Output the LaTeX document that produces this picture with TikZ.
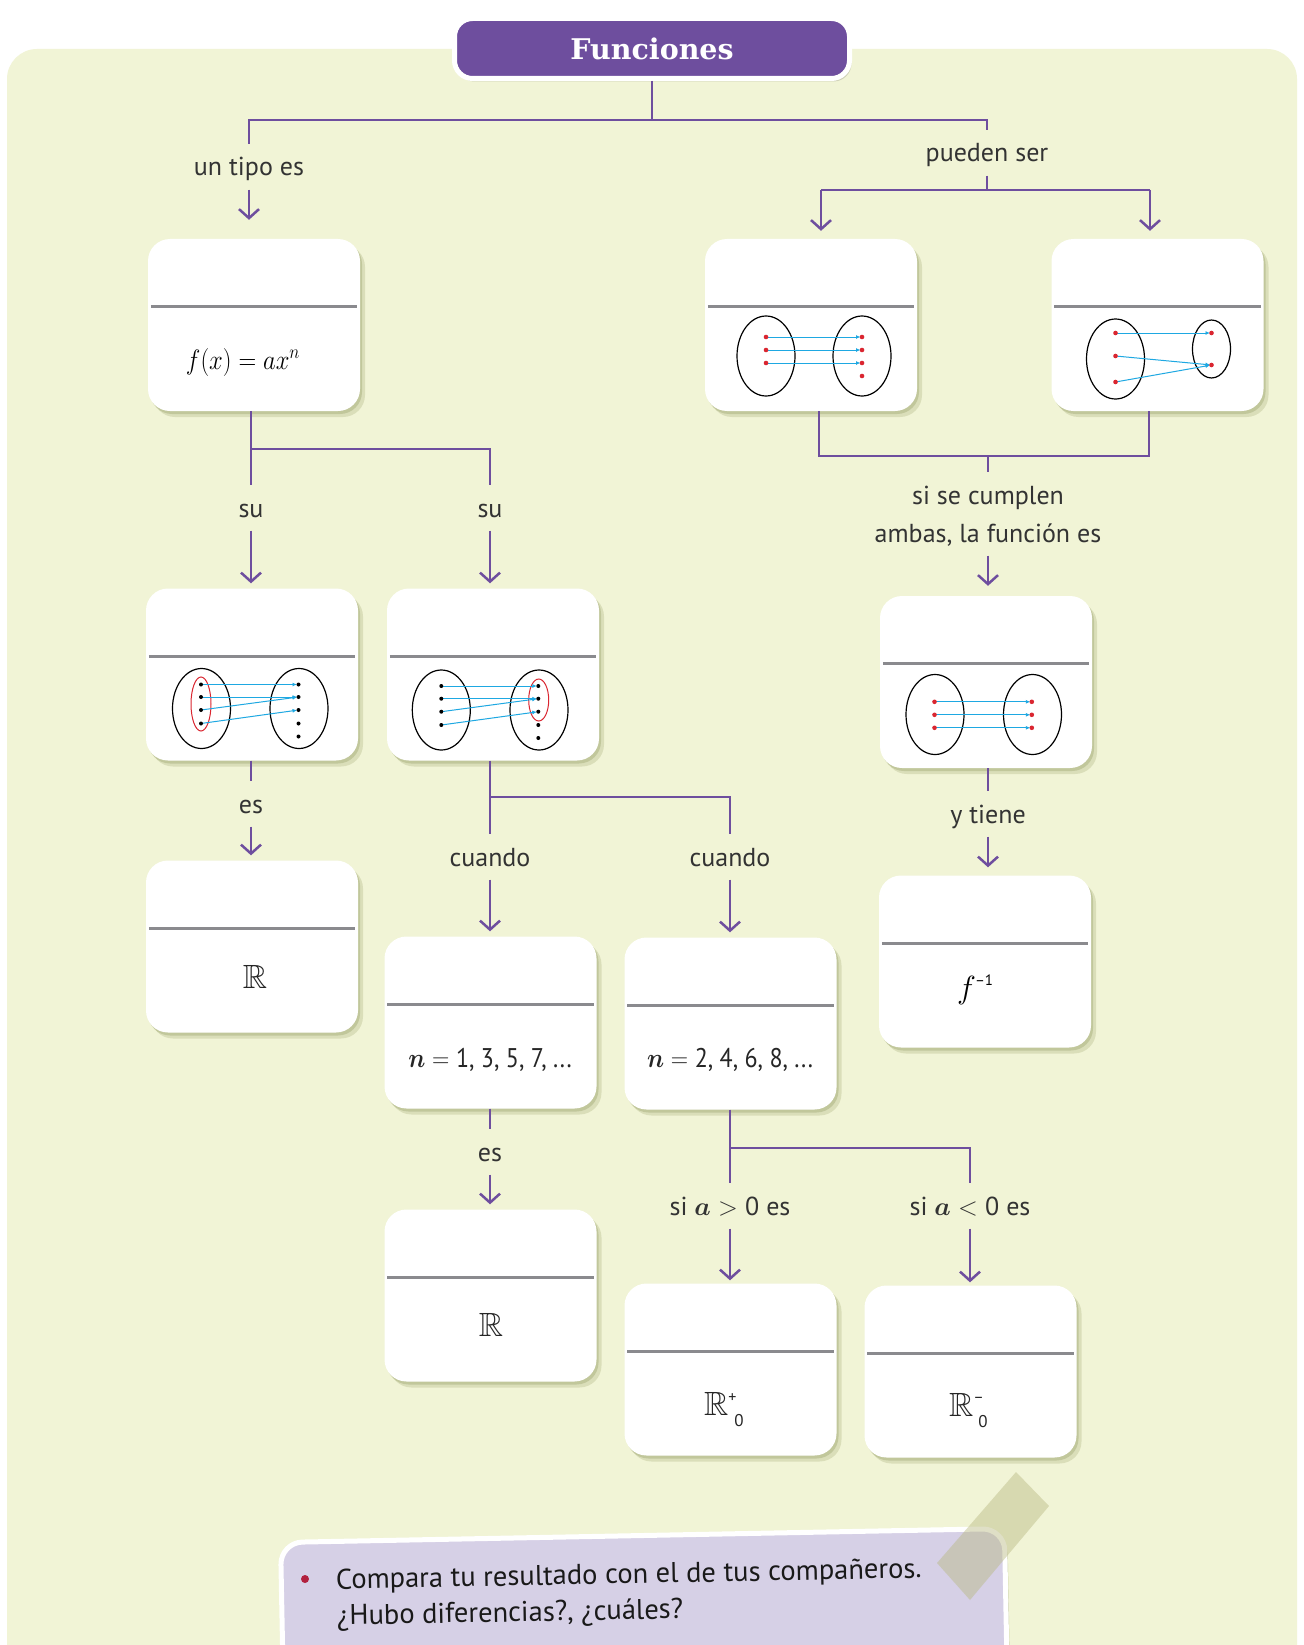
\documentclass[tikz,border=0pt]{standalone}
\usepackage{fix-cm}
\usepackage{amsmath,amssymb,bm}
\usepackage{graphicx}
\usepackage{fontspec}
\newfontfamily\lblfont{PT Sans}
\newfontfamily\titlefont{DejaVu Serif}
\usetikzlibrary{arrows.meta,shadows}
\definecolor{panelc}{RGB}{241,244,214}
\definecolor{purp}{RGB}{110,78,158}
\definecolor{shadowc}{RGB}{165,172,120}
\definecolor{divc}{RGB}{138,138,142}
\definecolor{bluec}{RGB}{30,168,226}
\definecolor{redc}{RGB}{218,38,48}
\definecolor{lavc}{RGB}{214,208,230}
\definecolor{bulc}{RGB}{178,32,62}
\definecolor{tapec}{RGB}{185,185,130}
\tikzset{
  bshadow/.style={drop shadow={shadow xshift=2pt,shadow yshift=-3pt,fill=shadowc,opacity=0.45},
                  drop shadow={shadow xshift=5pt,shadow yshift=-6pt,fill=shadowc,opacity=0.3}},
  cbox/.style={fill=white, rounded corners=22pt, minimum width=212pt, minimum height=172pt, inner sep=0pt, bshadow},
  divider/.style={draw=divc, line width=3pt},
  conn/.style={draw=purp, line width=2.5pt},
  arr/.style={conn, -{Straight Barb[length=9pt,width=20pt]}},
  clbl/.style={font=\lblfont\fontsize{26}{30}\selectfont, text=black!80, inner xsep=2pt, inner ysep=12pt, text height=19.5pt, text depth=1.5pt},
  ell/.style={draw=black, line width=1.2pt},
  marr/.style={draw=bluec, line width=1pt, -{Latex[length=4.5pt,width=4pt]}, shorten >=1.5pt},
  rdot/.style={fill=redc},
  bdot/.style={fill=black},
  redell/.style={draw=redc, line width=1pt},
  ctxt/.style={inner sep=0pt, font=\lblfont\fontsize{24}{28}\selectfont, text=black!85},
  titlebox/.style={fill=purp, draw=white, line width=5pt, rounded corners=18pt, minimum width=395pt, minimum height=60pt, text=white, inner sep=0pt, drop shadow={shadow xshift=2pt,shadow yshift=-3pt,fill=black,opacity=0.15}},
  notebox/.style={fill=lavc, draw=white, line width=5pt, rounded corners=22pt, minimum width=724pt, minimum height=260pt, inner sep=0pt, drop shadow={shadow xshift=3pt,shadow yshift=-4pt,fill=shadowc,opacity=0.45}},
  notetxt/.style={inner sep=0pt, font=\lblfont\fontsize{28.5}{32}\selectfont, text=black!90},
}
\begin{document}
\begin{tikzpicture}[x=1pt,y=-1pt]
\useasboundingbox (0,0) rectangle (1303,1645);
\clip (0,0) rectangle (1303,1645);
\fill[white] (0,0) rectangle (1303,1645);
\fill[panelc, rounded corners=30pt] (7,49) rectangle (1297,1720);

% ---------- boxes ----------
\node[cbox] (B1) at (254,325) {};
\node[cbox] (B2) at (811,325) {};
\node[cbox] (B3) at (1157.5,325) {};
\node[cbox] (B4) at (986,682) {};
\node[cbox] (B5) at (985,961.5) {};
\node[cbox] (B6) at (252,674.5) {};
\node[cbox] (B7) at (493,674.5) {};
\node[cbox] (B8) at (252,946.5) {};
\node[cbox] (B9) at (490.5,1022.5) {};
\node[cbox] (B10) at (730.5,1023.5) {};
\node[cbox] (B11) at (490.5,1295.5) {};
\node[cbox] (B12) at (730.5,1369.5) {};
\node[cbox] (B13) at (970.5,1371.5) {};
\foreach \b in {B1,B2,B3,B4,B5,B6,B7,B8,B9,B10,B11,B12,B13}
  \draw[divider] ([xshift=3pt,yshift=-68pt]\b.north west) -- ([xshift=-3pt,yshift=-68pt]\b.north east);

% ---------- title ----------
\node[titlebox] (title) at (652,48.5) {\titlefont\bfseries\fontsize{28.5}{32}\selectfont Funciones};

% ---------- labels ----------
\node[clbl] (ltipo) at (249,167) {un tipo es};
\node[clbl] (lpueden) at (987,153) {pueden ser};
\node[clbl] (lsu1) at (251,508) {su};
\node[clbl] (lsu2) at (490,508) {su};
\node[clbl] (lcump1) at (988,495) {si se cumplen};
\node[clbl] (lcump2) at (988,533) {ambas, la función es};
\node[clbl] (les1) at (251,804) {es};
\node[clbl] (ltiene) at (988,814) {y tiene};
\node[clbl] (lcuan1) at (490,857) {cuando};
\node[clbl] (lcuan2) at (730,857) {cuando};
\node[clbl] (les2) at (490,1152) {es};
\node[clbl] (lapos) at (730,1206) {si $\bm{a}>{}$0 es};
\node[clbl] (laneg) at (970,1206) {si $\bm{a}<{}$0 es};

% ---------- connectors ----------
\coordinate (jt) at (652,120);
\draw[conn] (title.south) -- (jt);
\draw[conn] (jt) -| (ltipo.north);
\draw[conn] (jt) -| (lpueden.north);
\draw[arr, shorten >=19pt] (ltipo.south) -- (ltipo.south |- B1.north);

\coordinate (jp) at (987,190);
\coordinate (jp2) at (821,190);
\coordinate (jp3) at (1150,190);
\draw[conn] (lpueden.south) -- (jp);
\draw[conn] (jp2) -- (jp3);
\draw[arr, shorten >=8pt] (jp2) -- (jp2 |- B2.north);
\draw[arr, shorten >=8pt] (jp3) -- (jp3 |- B3.north);

\coordinate (k2) at (819,456);
\coordinate (k3) at (1149,456);
\coordinate (km) at (988,456);
\draw[conn] (k2 |- B2.south) -- (k2) -- (k3) -- (k3 |- B3.south);
\draw[conn] (km) -- (lcump1.north);
\draw[arr, shorten >=10pt] (lcump2.south) -- (lcump2.south |- B4.north);

\draw[conn] (ltiene.north |- B4.south) -- (ltiene.north);
\draw[arr, shorten >=8pt] (ltiene.south) -- (ltiene.south |- B5.north);

\coordinate (s1) at (251,449);
\coordinate (s2) at (490,449);
\draw[conn] (s1 |- B1.south) -- (s1) -- (s2) -- (lsu2.north);
\draw[conn] (s1) -- (lsu1.north);
\draw[arr, shorten >=5pt] (lsu1.south) -- (lsu1.south |- B6.north);
\draw[arr, shorten >=5pt] (lsu2.south) -- (lsu2.south |- B7.north);

\draw[conn] (les1.north |- B6.south) -- (les1.north);
\draw[arr, shorten >=5pt] (les1.south) -- (les1.south |- B8.north);

\coordinate (c1) at (490,797);
\coordinate (c2) at (730,797);
\draw[conn] (c1 |- B7.south) -- (c1) -- (c2) -- (lcuan2.north);
\draw[conn] (c1) -- (lcuan1.north);
\draw[arr, shorten >=5pt] (lcuan1.south) -- (lcuan1.south |- B9.north);
\draw[arr, shorten >=5pt] (lcuan2.south) -- (lcuan2.south |- B10.north);

\draw[conn] (les2.north |- B9.south) -- (les2.north);
\draw[arr, shorten >=5pt] (les2.south) -- (les2.south |- B11.north);

\coordinate (d1) at (730,1148);
\coordinate (d2) at (970,1148);
\draw[conn] (d1 |- B10.south) -- (d1) -- (d2) -- (laneg.north);
\draw[conn] (d1) -- (lapos.north);
\draw[arr, shorten >=3pt] (lapos.south) -- (lapos.south |- B12.north);
\draw[arr, shorten >=3pt] (laneg.south) -- (laneg.south |- B13.north);

% ---------- box contents ----------
\node[inner sep=0pt, anchor=base, font=\fontsize{28}{32}\selectfont] (t1) at (243,369) {\scalebox{0.88}[1]{$f(x)=ax^{n}$}};

% B2: injective
\begin{scope}[shift={(B2.center)}]
\draw[ell] (-45,31) ellipse [x radius=29, y radius=40];
\draw[ell] (51,31) ellipse [x radius=29, y radius=40];
\foreach \y in {12,25,38} \draw[marr] (-45,\y) -- (51,\y);
\foreach \y in {12,25,38} \fill[rdot] (-45,\y) circle [radius=2.3];
\foreach \y in {12,25,38,51} \fill[rdot] (51,\y) circle [radius=2.3];
\end{scope}

% B3: surjective
\begin{scope}[shift={(B3.center)}]
\draw[ell] (-42,34) ellipse [x radius=29, y radius=40];
\draw[ell] (54,24) ellipse [x radius=19, y radius=29];
\draw[marr] (-42,8) -- (54,8);
\draw[marr] (-42,31) -- (54,40);
\draw[marr] (-42,57) -- (54,40);
\foreach \y in {8,31,57} \fill[rdot] (-42,\y) circle [radius=2.3];
\foreach \y in {8,40} \fill[rdot] (54,\y) circle [radius=2.3];
\end{scope}

% B6: domain
\begin{scope}[shift={(B6.center)}]
\draw[ell] (-50.5,34) ellipse [x radius=29, y radius=40];
\draw[ell] (47,34) ellipse [x radius=29, y radius=40];
\draw[redell] (-51,29.5) ellipse [x radius=10, y radius=27];
\draw[marr] (-51,10) -- (46.5,10);
\draw[marr] (-51,22.5) -- (46.5,22.5);
\draw[marr] (-51,35.5) -- (46.5,22.5);
\draw[marr] (-51,49) -- (46.5,35.5);
\foreach \y in {10,22.5,35.5,49} \fill[bdot] (-51,\y) circle [radius=2];
\foreach \y in {10,22.5,35.5,49,62} \fill[bdot] (46.5,\y) circle [radius=2];
\end{scope}

% B7: range
\begin{scope}[shift={(B7.center)}]
\draw[ell] (-51.7,35.5) ellipse [x radius=29, y radius=40];
\draw[ell] (46,35.5) ellipse [x radius=29, y radius=40];
\draw[redell] (45.7,25.5) ellipse [x radius=10, y radius=21];
\draw[marr] (-51.7,11.5) -- (45.3,11.5);
\draw[marr] (-51.7,24.2) -- (45.3,24.2);
\draw[marr] (-51.7,37.2) -- (45.3,24.2);
\draw[marr] (-51.7,50.5) -- (45.3,37.2);
\foreach \y in {11.5,24.2,37.2,50.5} \fill[bdot] (-51.7,\y) circle [radius=2];
\foreach \y in {11.5,24.2,37.2,50.5,63.5} \fill[bdot] (45.3,\y) circle [radius=2];
\end{scope}

% B4: bijective
\begin{scope}[shift={(B4.center)}]
\draw[ell] (-51,32.5) ellipse [x radius=29, y radius=40];
\draw[ell] (46.5,32.5) ellipse [x radius=29, y radius=40];
\foreach \y in {19.8,32.8,45.8} \draw[marr] (-51.5,\y) -- (45.8,\y);
\foreach \y in {19.8,32.8,45.8} \fill[rdot] (-51.5,\y) circle [radius=2.3];
\foreach \y in {19.8,32.8,45.8} \fill[rdot] (45.8,\y) circle [radius=2.3];
\end{scope}

\node[inner sep=0pt, anchor=base west, font=\fontsize{32}{34}\selectfont] (t5) at (957,998) {$f$\hspace{-1pt}\raisebox{13pt}{\lblfont\fontsize{15}{15}\selectfont –1}};
\node[ctxt, anchor=base] (t8) at (255,988) {\scalebox{1.4}{$\mathbb{R}$}};
\node[ctxt, anchor=base, font=\lblfont\fontsize{27}{30}\selectfont] (t9) at (490,1067) {\scalebox{0.89}[1]{$\bm{n}={}$1, 3, 5, 7, ...}};
\node[ctxt, anchor=base, font=\lblfont\fontsize{27}{30}\selectfont] (t10) at (730,1067) {\scalebox{0.89}[1]{$\bm{n}={}$2, 4, 6, 8, ...}};
\node[ctxt, anchor=base] (t11) at (491,1336) {\scalebox{1.4}{$\mathbb{R}$}};
\node[ctxt, anchor=base west] (t12) at (704,1415) {\scalebox{1.4}{$\mathbb{R}$}\rlap{\raisebox{13pt}{\fontsize{16}{16}\selectfont +}}\hspace{6pt}\raisebox{-11pt}{\fontsize{17}{17}\selectfont 0}};
\node[ctxt, anchor=base west] (t13) at (949,1416) {\scalebox{1.4}{$\mathbb{R}$}\rlap{\raisebox{14pt}{\fontsize{16}{16}\selectfont –}}\hspace{5pt}\raisebox{-11pt}{\fontsize{17}{17}\selectfont 0}};

% ---------- note ----------
\node[notebox, anchor=north west, rotate=1.1] (note) at (278,1540) {};
\fill[tapec, opacity=0.45] (1016,1472) -- (1049,1506) -- (970,1600) -- (937,1563) -- cycle;
\fill[bulc] (305,1579) circle [radius=4];
\node[notetxt, anchor=base west, rotate=1.1] (n1) at (336,1589) {Compara tu resultado con el de tus compañeros.};
\node[notetxt, anchor=base west, rotate=1.1] (n2) at (337,1625) {¿Hubo diferencias?, ¿cuáles?};
\end{tikzpicture}
\end{document}
